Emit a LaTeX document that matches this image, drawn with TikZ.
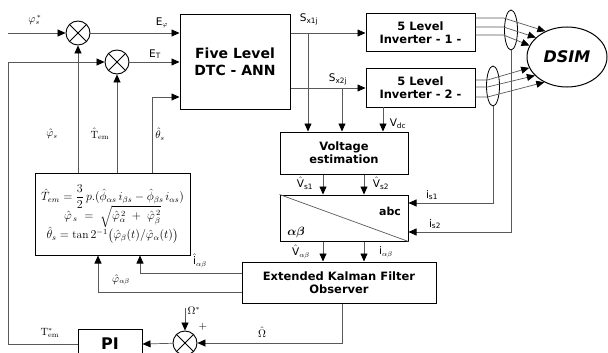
\documentclass[tikz,border=0pt]{standalone}
\usepackage{amsmath}
\usepackage{fontspec}
\newfontfamily\vfont{DejaVu Sans}
\usetikzlibrary{calc, positioning}
\usetikzlibrary{arrows.meta}
\usetikzlibrary{shapes.geometric}

\tikzset{
  blk/.style={draw, line width=1pt, fill=white, align=center, inner sep=1pt,
    font=\vfont\bfseries\fontsize{11.5}{13}\selectfont},
  sumj/.style={draw, line width=0.9pt, circle, minimum size=24pt, inner sep=0pt},
  wire/.style={draw=black!65, line width=0.7pt},
  arr/.style={wire, -{Triangle[length=8pt,width=7pt,fill=black,color=black]}},
  lbl/.style={font=\vfont\fontsize{10.5}{12}\selectfont, inner sep=1pt},
  ct/.style={draw, line width=0.8pt, ellipse, minimum width=13pt, minimum height=40pt, inner sep=0pt},
}

\begin{document}
\begin{tikzpicture}[x=1pt,y=-1pt]
\useasboundingbox (0,0) rectangle (608,353);

% Blocks
\node[blk, minimum width=110pt, minimum height=94pt,
  font=\vfont\bfseries\fontsize{14}{17}\selectfont] (dtc) at (235,62) {Five Level\\DTC - ANN};
\node[blk, minimum width=109pt, minimum height=38pt] (inv1) at (420.5,33) {5 Level\\Inverter - 1 -};
\node[blk, minimum width=109pt, minimum height=38pt] (inv2) at (420.5,88) {5 Level\\Inverter - 2 -};
\node[blk, minimum width=128pt, minimum height=42pt] (volt) at (344,153) {Voltage\\estimation};
\node[blk, minimum width=128pt, minimum height=46pt] (trans) at (344,218) {};
\node[blk, minimum width=194pt, minimum height=41pt] (ekf) at (339,282.5) {Extended Kalman Filter\\Observer};
\node[blk, minimum width=155pt, minimum height=82pt, font=\fontsize{11.5}{22}\selectfont] (est) at (112.5,214)
  {$\hat{T}_{em}=\dfrac{3}{2}\,p.(\hat{\phi}_{\alpha s}\,i_{\beta s}-\hat{\phi}_{\beta s}\,i_{\alpha s})$\\[-4pt]
   $\hat{\varphi}_{\,s}\;=\;\sqrt{\hat{\varphi}_{\alpha}^{\,2}\;+\;\hat{\varphi}_{\beta}^{\,2}}$\\[-3pt]
   $\hat{\theta}_s=\tan2^{-1}\bigl(\hat{\varphi}_{\beta}(t)/\hat{\varphi}_{\alpha}(t)\bigr)$};
\node[blk, minimum width=64pt, minimum height=30pt,
  font=\vfont\bfseries\fontsize{16}{18}\selectfont] (pi) at (110,344) {PI};
\node[draw, line width=1pt, ellipse, minimum width=80pt, minimum height=60pt,
  font=\vfont\bfseries\itshape\fontsize{16}{18}\selectfont] (dsim) at (567,57) {DSIM};

% abc / alpha-beta transform
\draw[wire] (trans.north west) -- (trans.south east);
\node[font=\vfont\bfseries\fontsize{11}{13}\selectfont] (abc) at (390,211) {abc};
\node[font=\bfseries\fontsize{12}{13}\selectfont] (ab) at (296,232) {$\boldsymbol{\alpha\beta}$};

% Summing junctions
\node[sumj] (s1) at (78,33) {};
\node[sumj] (s2) at (117,62) {};
\node[sumj] (s3) at (185,343) {};
\foreach \s in {s1,s2,s3}
  \draw[line width=0.9pt] (\s.north west) -- (\s.south east) (\s.north east) -- (\s.south west);

% Current sensors
\node[ct] (ct1) at (511,30) {};
\node[ct] (ct2) at (493,86) {};

% Free ends and bends
\coordinate (phin) at (8,33);
\coordinate (lft) at (8,62);
\coordinate (thb) at (152,97);
\coordinate (b1) at (308,33);
\coordinate (b2) at (342,88);
\coordinate (vdc) at (383,107);
\coordinate (v1) at (323,0);
\coordinate (v2) at (364,0);
\coordinate (ia) at (140,273);
\coordinate (pa) at (98,292);
\coordinate (om) at (342,343);
\coordinate (oms) at (185,308);

% Torque and flux loops
\draw[arr] (phin) -- (s1);
\draw[arr] (s1) -- (s1 -| dtc.west);
\draw[arr] (s2) -- (s2 -| dtc.west);
\draw[arr] (thb |- est.north) -- (thb) -- (thb -| dtc.west);
\draw[arr] (s1 |- est.north) -- (s1);
\draw[arr] (s2 |- est.north) -- (s2);
\draw[arr] (pi.west) -| (lft) -- (s2);

% Switching states to inverters
\draw[arr] (dtc.east |- b1) -- (b1 -| inv1.west);
\draw[arr] (dtc.east |- b2) -- (b2 -| inv2.west);
\draw[arr] (b1) -- (b1 |- volt.north);
\draw[arr] (b2) -- (b2 |- volt.north);
\draw[arr] (vdc) -- (vdc |- volt.north);

% Estimation chain
\draw[arr] (v1 |- volt.south) -- (v1 |- trans.north);
\draw[arr] (v2 |- volt.south) -- (v2 |- trans.north);
\draw[arr] (v1 |- trans.south) -- (v1 |- ekf.north);
\draw[arr] (v2 |- trans.south) -- (v2 |- ekf.north);
\draw[arr] (ekf.west |- ia) -- (ia) -- (ia |- est.south);
\draw[arr] (ekf.west |- pa) -- (pa) -- (pa |- est.south);

% Speed loop
\draw[arr] (om |- ekf.south) -- (om) -- (s3);
\draw[arr] (oms) -- (s3);
\draw[arr] (s3) -- (pi.east);

% Inverters to machine
\foreach \dy/\a in {-15/130, -6/148, 2/163}
  \draw[arr] ($(inv1.east)+(0,\dy)$) -- ($(inv1.east)+(28,\dy)$) -- (dsim.\a);
\foreach \dy/\a in {-8/196, -1/210, 9/228}
  \draw[arr] ($(inv2.east)+(0,\dy)$) -- ($(inv2.east)+(12,\dy)$) -- (dsim.\a);

% Measured currents
\draw[arr] (ct2.south) |- ($(trans.east)+(0,-15)$);
\draw[arr] (ct1.south) |- ($(trans.east)+(0,14)$);

% Labels
\node[lbl] (lphi) at (35,20) {$\varphi_s^{\,*}$};
\node[lbl] (lEphi) at (162,23) {E$_\varphi$};
\node[lbl] (lET) at (155,54) {E\textsubscript{T}};
\node[lbl] (lphih) at (52,134) {$\hat{\varphi}_s$};
\node[lbl] (lTh) at (100,134) {$\hat{\mathrm{T}}_{\mathrm{em}}$};
\node[lbl] (lthh) at (160,134) {$\hat{\theta}_s$};
\node[lbl] (lS1) at (309,19) {S\textsubscript{x1j}};
\node[lbl] (lS2) at (338,79) {S\textsubscript{x2j}};
\node[lbl] (lVdc) at (398,124) {V\textsubscript{dc}};
\node[lbl] (lV1) at (305,183) {$\hat{\text{V}}$\textsubscript{s1}};
\node[lbl] (lV2) at (381,183) {$\hat{\text{V}}$\textsubscript{s2}};
\node[lbl] (lVab) at (301,252) {$\hat{\text{V}}$\textsubscript{$\alpha\beta$}};
\node[lbl] (liab) at (386,252) {i\textsubscript{$\alpha\beta$}};
\node[lbl] (lis1) at (432,195) {i\textsubscript{s1}};
\node[lbl] (lis2) at (435,224) {i\textsubscript{s2}};
\node[lbl] (liabh) at (200,261) {$\hat{\text{i}}$\textsubscript{$\alpha\beta$}};
\node[lbl] (lphiab) at (121,280) {$\hat{\varphi}_{\alpha\beta}$};
\node[lbl] (lOms) at (194,311) {$\Omega^{*}$};
\node[lbl] (lplus) at (203,327) {$+$};
\node[lbl] (lOmh) at (262,332) {$\hat{\Omega}$};
\node[lbl] (lTs) at (50,333) {$\mathrm{T}^{*}_{\mathrm{em}}$};
\end{tikzpicture}
\end{document}
